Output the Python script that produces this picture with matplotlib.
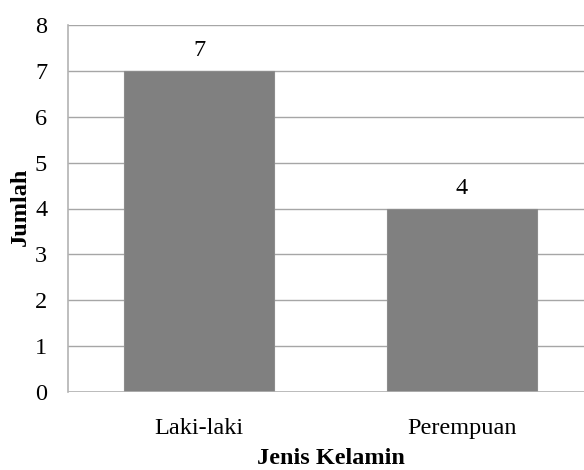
import matplotlib
matplotlib.use("Agg")
import matplotlib.pyplot as plt

categories = ["Laki-laki", "Perempuan"]
values = [7, 4]
y_ticks = [0, 1, 2, 3, 4, 5, 6, 7, 8]

plt.rcParams['font.family'] = ['Liberation Serif', 'DejaVu Serif']
FS = 17.5

fig = plt.figure(figsize=(5.84, 4.70), dpi=100)
ax = fig.add_axes([68 / 584, 78 / 470, 525 / 584, 367 / 470])

x = list(range(len(categories)))
bars = ax.bar(x, values, width=0.57, color="#808080", edgecolor="#8c8c8c",
              linewidth=0.8, zorder=3)

ax.set_xlim(-0.5, len(categories) - 0.5)
ax.set_ylim(0, 8)
ax.set_yticks(y_ticks)
ax.set_yticklabels([str(t) for t in y_ticks])
ax.set_xticks(x)
ax.set_xticklabels(categories)

ax.yaxis.grid(True, color="#a6a6a6", linewidth=1.0, zorder=0)
ax.set_axisbelow(True)
for side in ("top", "right", "bottom"):
    ax.spines[side].set_visible(False)
ax.spines["left"].set_color("#b3b3b3")
ax.spines["left"].set_linewidth(1.2)
ax.axhline(0, color="#b3b3b3", linewidth=1.2, zorder=4)

ax.tick_params(axis="y", length=0, pad=15, labelsize=FS)
ax.tick_params(axis="x", length=0, pad=19, labelsize=FS)

for b, v in zip(bars, values):
    ax.annotate(str(v), (b.get_x() + b.get_width() / 2, v),
                xytext=(0, 7), textcoords="offset points",
                ha="center", va="bottom", fontsize=FS)

fig.text(20 / 584, 1 - 207 / 470, "Jumlah", rotation=90, ha="center",
         va="center", fontsize=FS, fontweight="bold")
fig.text(331 / 584, 1 - 459 / 470, "Jenis Kelamin", ha="center",
         va="center", fontsize=FS, fontweight="bold")

fig.savefig("out.png", dpi=100)
